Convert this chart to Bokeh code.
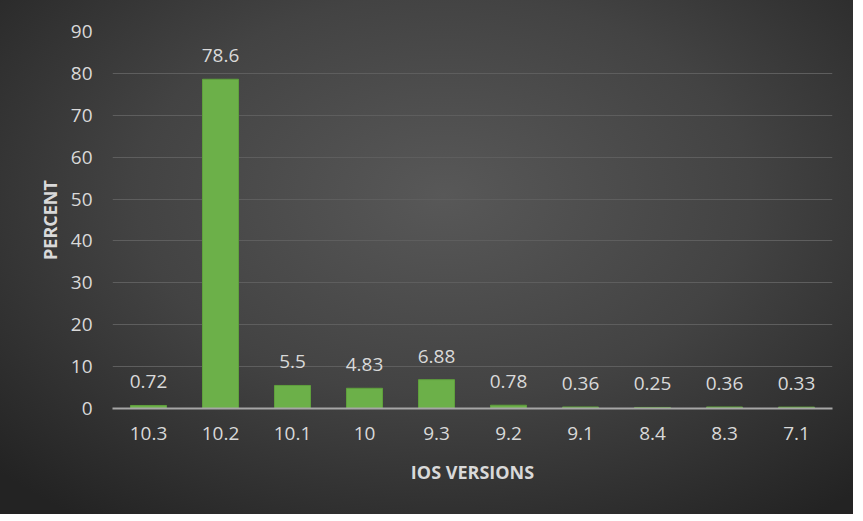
from bokeh.plotting import figure
from bokeh.models import ColumnDataSource, Range1d, FixedTicker
from bokeh.embed import file_html
from bokeh.resources import INLINE
from bokeh.core.properties import value

versions = ["10.3", "10.2", "10.1", "10", "9.3", "9.2", "9.1", "8.4", "8.3", "7.1"]
percent = [0.72, 78.6, 5.5, 4.83, 6.88, 0.78, 0.36, 0.25, 0.36, 0.33]
labels = ["0.72", "78.6", "5.5", "4.83", "6.88", "0.78", "0.36", "0.25", "0.36", "0.33"]
y_ticks = [0, 10, 20, 30, 40, 50, 60, 70, 80, 90]

src = ColumnDataSource(dict(x=versions, y=percent, lab=labels))

FONT = "Open Sans"
TXT = "#d9d9d9"

p = figure(width=853, height=514, x_range=versions, y_range=Range1d(0, 90),
           output_backend="svg", toolbar_location=None,
           min_border_left=112, min_border_right=21, min_border_top=31, min_border_bottom=106)

p.styles = {"background": "radial-gradient(ellipse 72% 78% at 52% 38%, #585858 0%, #434343 50%, #232323 100%)"}
p.border_fill_alpha = 0
p.background_fill_alpha = 0
p.outline_line_color = None

p.vbar(x="x", top="y", width=0.5, source=src, fill_color="#6cb049", line_color="#5fa03c", line_width=1)
p.text(x="x", y="y", text="lab", source=src, text_align="center", text_baseline="bottom",
       y_offset=-17, text_color=TXT, text_font=value(FONT), text_font_size="19px")

p.xgrid.grid_line_color = None
p.ygrid.grid_line_color = "#5e5e5e"
p.ygrid.grid_line_width = 1
p.yaxis.ticker = FixedTicker(ticks=y_ticks)

p.yaxis.axis_line_color = None
p.yaxis.major_tick_line_color = None
p.yaxis.minor_tick_line_color = None
p.yaxis.major_label_standoff = 14
p.yaxis.major_label_text_color = TXT
p.yaxis.major_label_text_font = FONT
p.yaxis.major_label_text_font_size = "19px"
p.yaxis.axis_label = "PERCENT"
p.yaxis.axis_label_text_color = TXT
p.yaxis.axis_label_text_font = FONT
p.yaxis.axis_label_text_font_style = "bold"
p.yaxis.axis_label_text_font_size = "18px"
p.yaxis.axis_label_standoff = 6

p.xaxis.axis_line_color = "#a6a6a6"
p.xaxis.axis_line_width = 2
p.xaxis.major_tick_line_color = None
p.xaxis.minor_tick_line_color = None
p.xaxis.major_label_standoff = 12
p.xaxis.major_label_text_color = TXT
p.xaxis.major_label_text_font = FONT
p.xaxis.major_label_text_font_size = "19px"
p.xaxis.axis_label = "IOS VERSIONS"
p.xaxis.axis_label_text_color = TXT
p.xaxis.axis_label_text_font = FONT
p.xaxis.axis_label_text_font_style = "bold"
p.xaxis.axis_label_text_font_size = "18px"
p.xaxis.axis_label_standoff = 17

open("out.html", "w").write(file_html(p, INLINE))
